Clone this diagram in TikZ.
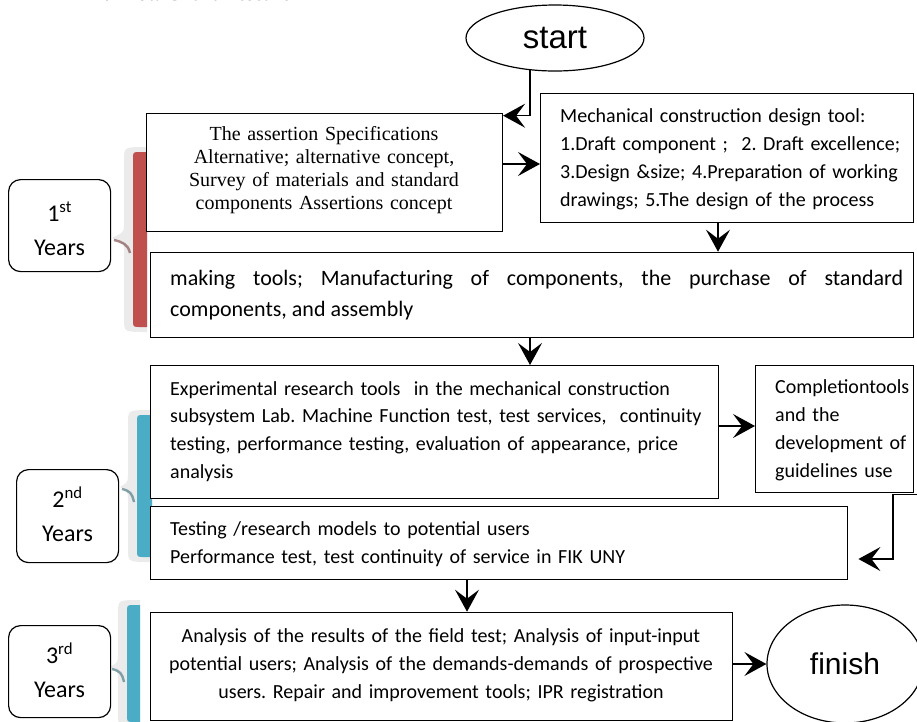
\documentclass[tikz,border=0pt]{standalone}
\usepackage{fontspec}
\setmainfont{Carlito}
\newfontfamily\seriffont{Liberation Serif}
\newfontfamily\arialfont{Liberation Sans}
\usetikzlibrary{arrows.meta,shapes.geometric,calc}
\definecolor{bracered}{HTML}{C0504D}
\definecolor{braceblue}{HTML}{4BACC6}
\frenchspacing
% #1 colour, #2 right edge, #3 bar left, #4 tip x, #5 top, #6 middle, #7 bottom
\newcommand\yearbrace[7]{%
  \fill[gray!16] (#2,#5-5) .. controls (#3-9,#5-5) and (#3-9,#5-5) .. (#3-9,#5+8)
     -- (#3-9,#6-12) .. controls (#3-9,#6-3) and (#4+6,#6-4) .. (#4,#6)
     .. controls (#4+6,#6+4) and (#3-9,#6+3) .. (#3-9,#6+12)
     -- (#3-9,#7-8) .. controls (#3-9,#7+5) and (#3-9,#7+5) .. (#2,#7+5) -- cycle;
  \fill[#1] (#2,#5) -- (#2,#7) -- (#3+7,#7) .. controls (#3,#7) .. (#3,#7-7)
     -- (#3,#5+7) .. controls (#3,#5) .. (#3+7,#5) -- cycle;
  \draw[#1!55!black, line width=2.4pt, opacity=.55]
     (#4+2,#6+2) .. controls (#4+10,#6+4) and (#3-5,#6+6) .. (#3-3,#6+15);
}
\begin{document}
\begin{tikzpicture}[x=1pt,y=-1pt,
  box/.style={draw, line width=1.4pt, rectangle, inner sep=0pt, anchor=north west},
  yearbox/.style={draw, line width=1.2pt, rounded corners=12pt, inner sep=0pt, anchor=north west},
  yeartxt/.style={align=center, inner sep=0pt, font=\fontsize{24}{34}\selectfont},
  txt/.style={inner sep=0pt, font=\fontsize{20}{28}\selectfont},
  arr/.style={line width=1.4pt, -{Stealth[length=22pt,width=24pt,inset=9pt]}},
  term/.style={draw, ellipse, line width=1.2pt, inner sep=0pt}]
\useasboundingbox (0,0) rectangle (917,721);

\node[anchor=base west, inner sep=0pt, font=\seriffont\bfseries\fontsize{20}{24}\selectfont] (title) at (90,0.5) {A.~~Flow Chart Research};

% braces
\yearbrace{bracered}{147}{133}{112}{152}{238}{327}
\yearbrace{braceblue}{152}{137}{120}{415}{487}{557}
\yearbrace{braceblue}{140}{127}{110}{605}{667}{722}

% terminals
\node[term, minimum width=178pt, minimum height=66pt] (start) at (555,38) {\arialfont\fontsize{33}{36}\selectfont start};
\node[term, minimum width=156pt, minimum height=118pt] (finish) at (845,664) {\arialfont\fontsize{30}{34}\selectfont finish};

% boxes
\node[box, minimum width=356pt, minimum height=118pt, fill=white] (b1) at (145.7,112.7) {};
\node[box, minimum width=373pt, minimum height=129pt] (b2) at (540,92.7) {};
\node[box, minimum width=763pt, minimum height=85pt, fill=white] (b3) at (150,251.7) {};
\node[box, minimum width=568pt, minimum height=133pt, fill=white] (b4) at (150,365) {};
\node[box, minimum width=158pt, minimum height=127pt] (b5) at (755,365) {};
\node[box, minimum width=697pt, minimum height=73pt, fill=white] (b6) at (150,505.7) {};
\node[box, minimum width=582pt, minimum height=108pt, fill=white] (b7) at (150,611.7) {};

% texts
\node[inner sep=0pt, anchor=base, text width=340pt, align=center, font=\seriffont\fontsize{20}{22.8}\selectfont] (t1) at (324,140.7)
  {The assertion Specifications\\Alternative; alternative concept,\\Survey of materials and standard\\components Assertions concept};
\node[txt, anchor=base west, text width=355pt, align=left] (t2) at (560,122)
  {Mechanical construction design tool:\\1.Draft component ;~~2. Draft excellence;\\3.Design \&size; 4.Preparation of working\\drawings; 5.The design of the process};
\node[inner sep=0pt, anchor=base west, text width=733pt, align=justify, font=\fontsize{22}{31}\selectfont] (t3) at (170,285)
  {making tools; Manufacturing of components, the purchase of standard\linebreak components, and assembly};
\node[txt, anchor=base west, text width=560pt, align=left, font=\fontsize{20}{27.7}\selectfont] (t4) at (170,395)
  {Experimental research tools~~in the mechanical construction\\subsystem Lab. Machine Function test, test services,~~continuity\\testing, performance testing, evaluation of appearance, price\\analysis};
\node[txt, anchor=base west, text width=142pt, align=left] (t5) at (775,393)
  {Completiontools\\and the\\development of\\guidelines use};
\node[txt, anchor=base west, text width=670pt, align=left] (t6) at (170,535)
  {Testing /research models to potential users\\Performance test, test continuity of service in FIK UNY};
\node[txt, anchor=base, text width=570pt, align=center] (t7) at (441,642)
  {Analysis of the results of the field test; Analysis of input-input\\potential users; Analysis of the demands-demands of prospective\\users. Repair and improvement tools; IPR registration};

% year boxes
\node[yearbox, minimum width=102pt, minimum height=92pt] (y1) at (8,179) {};
\node[yeartxt] (y1t) at ($(y1.center)+(0,3)$) {1\textsuperscript{st}\\Years};
\node[yearbox, minimum width=102pt, minimum height=93pt] (y2) at (16,469) {};
\node[yeartxt] (y2t) at ($(y2.center)+(0,-2)$) {2\textsuperscript{nd}\\Years};
\node[yearbox, minimum width=102pt, minimum height=92pt] (y3) at (8,625) {};
\node[yeartxt] (y3t) at ($(y3.center)+(0,-1)$) {3\textsuperscript{rd}\\Years};

% connectors
\draw[arr] (start.232) |- ($(b1.north east)+(0,3)$);
\draw[arr] (b1.east |- 0,164) -- (b2.west |- 0,164);
\draw[arr] (b2.south -| 718,0) -- (b3.north -| 718,0);
\draw[arr] (b3.south -| 530,0) -- (b4.north -| 530,0);
\draw[arr] (b4.east |- 0,426) -- (b5.west |- 0,426);
\coordinate (c5) at (917,494.5);
\coordinate (k1) at (893,559);
\coordinate (k2) at ($(b6.east |- k1)+(10,0)$);
\draw[arr] (c5) -| (k1) -- (k2);
\draw[arr] (b6.south -| 467,0) -- (b7.north -| 467,0);
\draw[arr] (b7.east |- finish.west) -- (finish.west);
\end{tikzpicture}
\end{document}
